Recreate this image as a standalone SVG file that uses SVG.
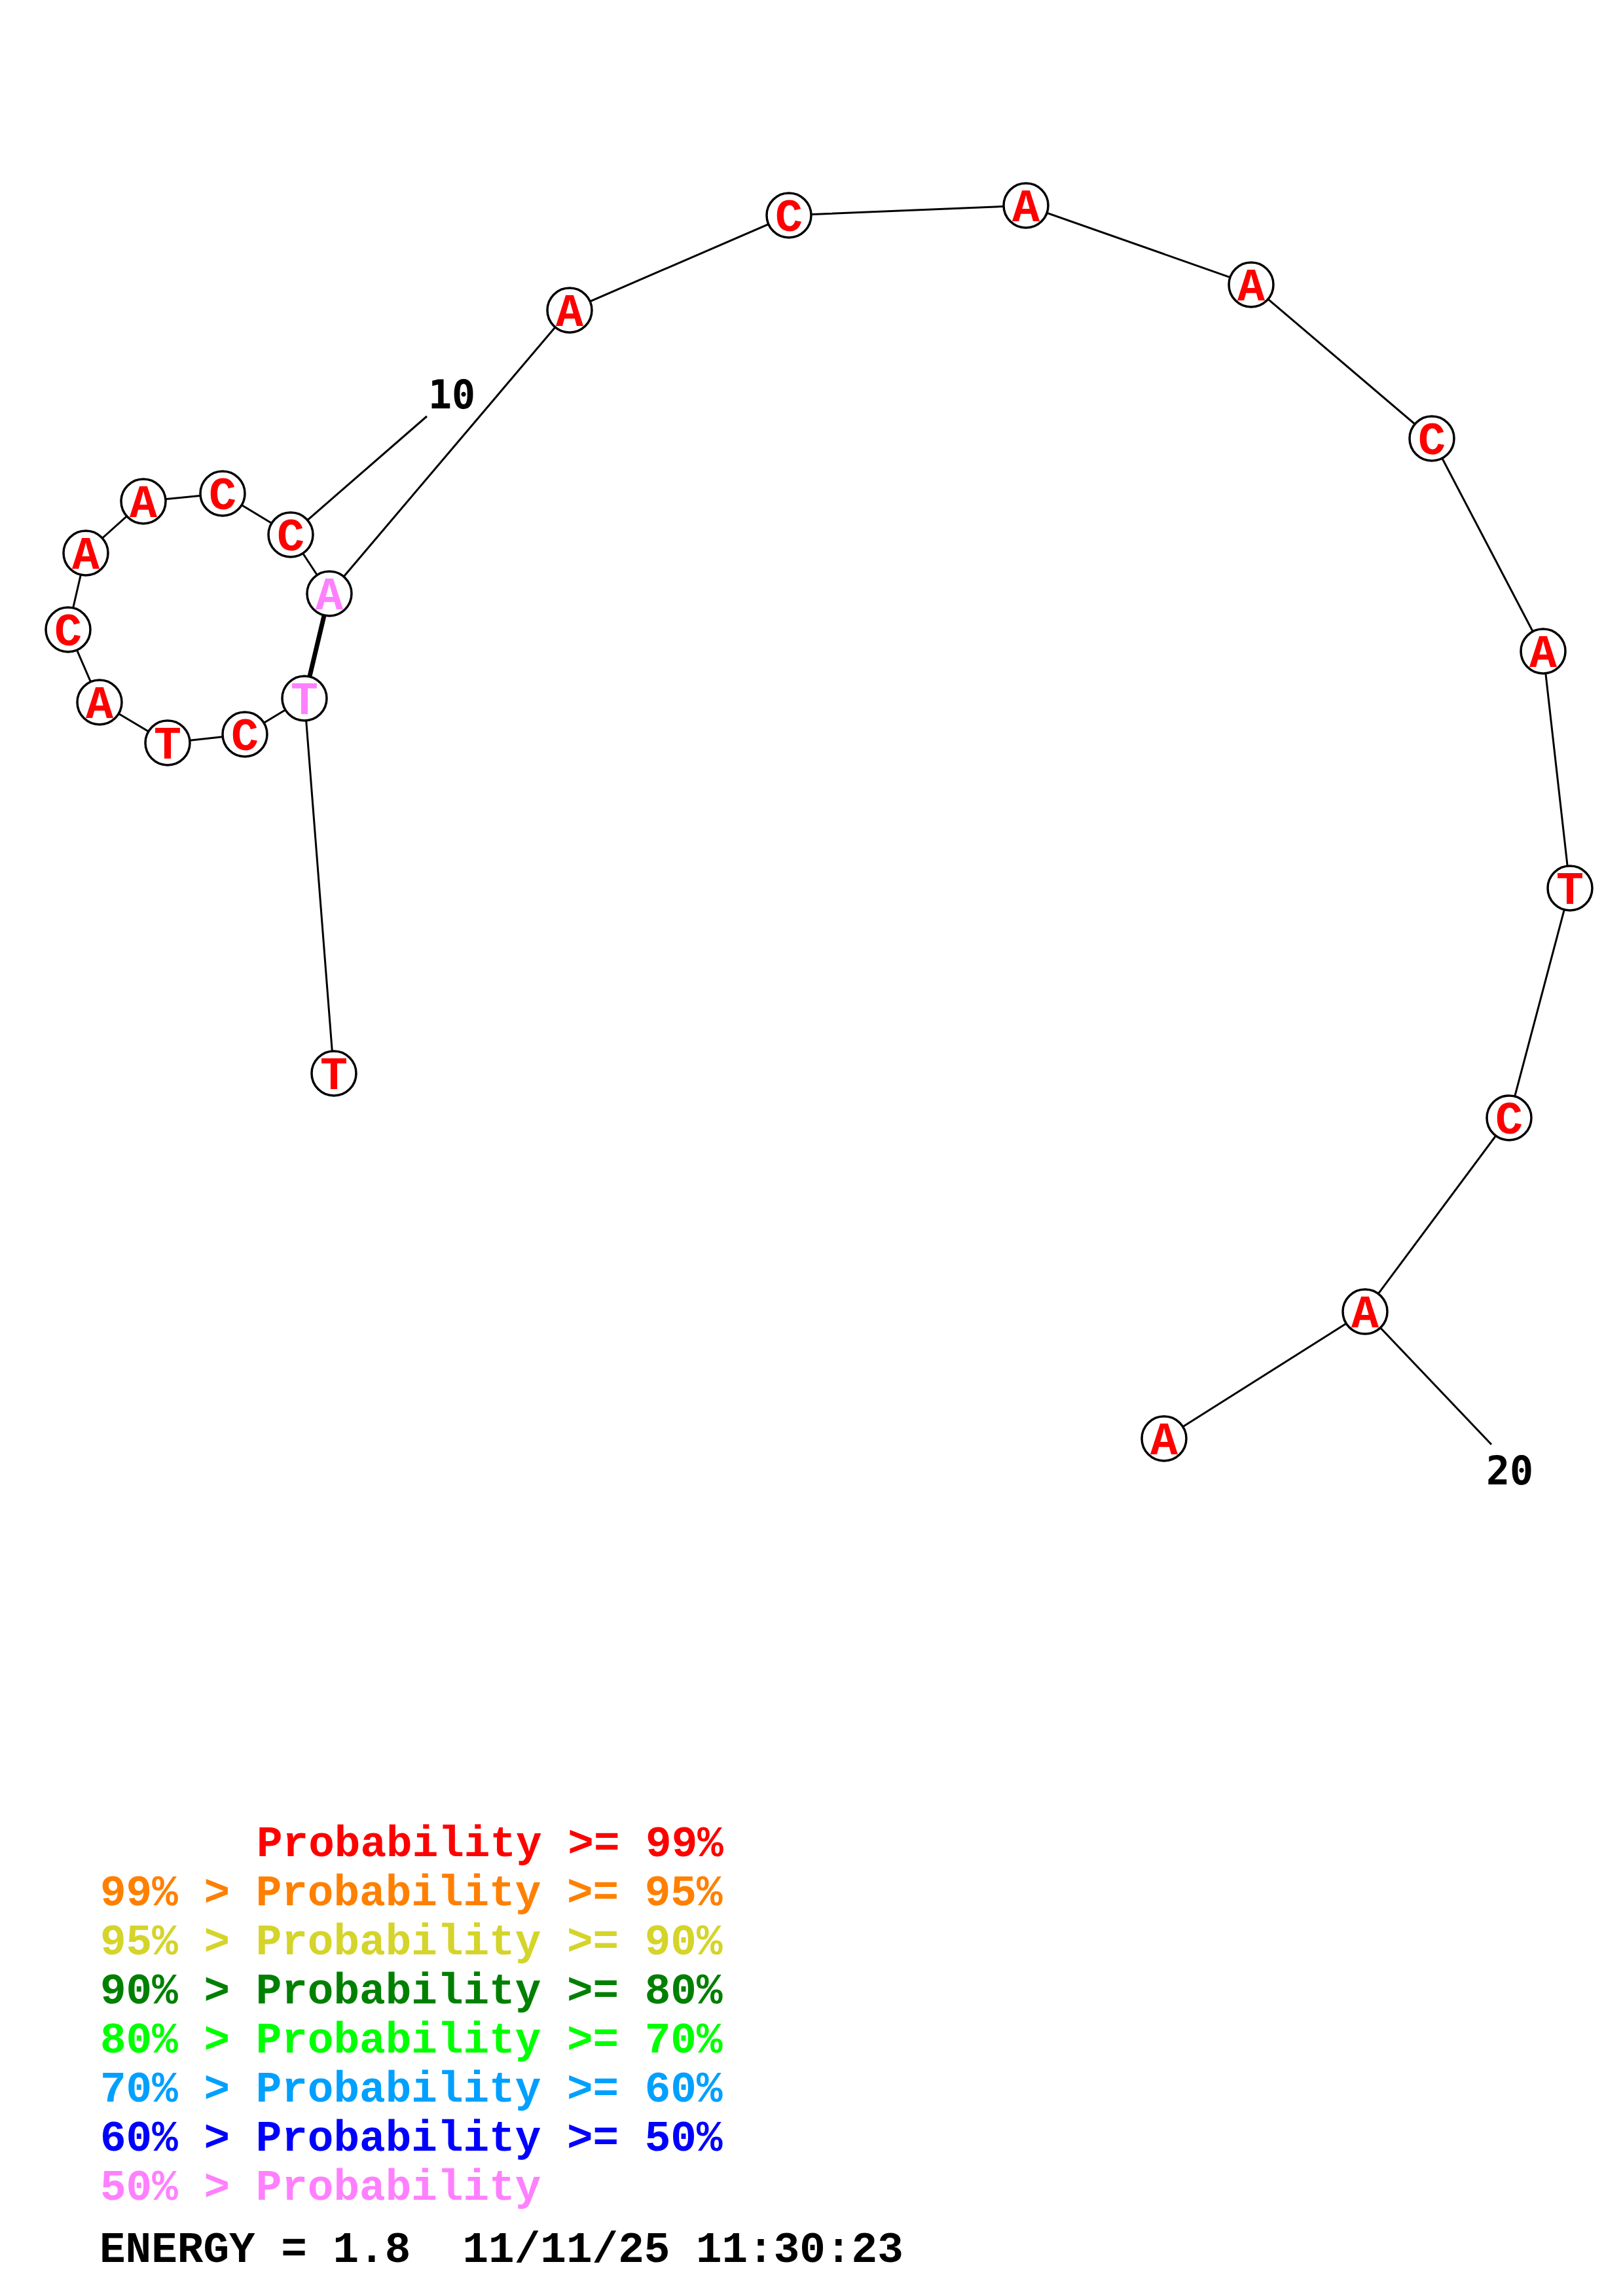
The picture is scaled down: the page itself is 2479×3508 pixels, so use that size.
<svg xmlns="http://www.w3.org/2000/svg" width="2479" height="3508" viewBox="0 0 2479 3508">
<style>
.bb{stroke:#000;stroke-width:3;fill:none}
.pair{stroke:#000;stroke-width:7}
.nc{fill:#fff;stroke:#000;stroke-width:3.5}
.nt{font-family:"Liberation Mono","Courier New",monospace;font-weight:bold;font-size:70px;text-anchor:middle;fill:#f00}
.nt.p{fill:#ff80ff}
.num{font-family:"DejaVu Sans Mono","Liberation Mono",monospace;font-weight:bold;font-size:60px;fill:#000}
.lg{font-family:"Liberation Mono","Courier New",monospace;font-weight:bold;font-size:66px}
</style>
<rect width="2479" height="3508" fill="#fff"/>
<g id="connectors">
<polyline class="bb" points="510,1640 465,1067 374,1122 256,1135 152,1073 104,962 131,845 219,766 340,754 444,817 503,907 870,474 1205,329 1567,314 1911,435 2187,670 2357,995 2398,1357 2305,1708 2085,2004 1778,2198"/>
<line class="pair" x1="465" y1="1067" x2="503" y2="907"/>
<line class="bb" x1="444" y1="817" x2="652" y2="636"/>
<line class="bb" x1="2085" y1="2004" x2="2278" y2="2207"/>
</g>
<g id="n1"><circle class="nc" cx="510" cy="1640" r="34"/><text class="nt" x="510" y="1664">T</text></g>
<g id="n2"><circle class="nc" cx="465" cy="1067" r="34"/><text class="nt p" x="465" y="1091">T</text></g>
<g id="n3"><circle class="nc" cx="374" cy="1122" r="34"/><text class="nt" x="374" y="1146">C</text></g>
<g id="n4"><circle class="nc" cx="256" cy="1135" r="34"/><text class="nt" x="256" y="1159">T</text></g>
<g id="n5"><circle class="nc" cx="152" cy="1073" r="34"/><text class="nt" x="152" y="1097">A</text></g>
<g id="n6"><circle class="nc" cx="104" cy="962" r="34"/><text class="nt" x="104" y="986">C</text></g>
<g id="n7"><circle class="nc" cx="131" cy="845" r="34"/><text class="nt" x="131" y="869">A</text></g>
<g id="n8"><circle class="nc" cx="219" cy="766" r="34"/><text class="nt" x="219" y="790">A</text></g>
<g id="n9"><circle class="nc" cx="340" cy="754" r="34"/><text class="nt" x="340" y="778">C</text></g>
<g id="n10"><circle class="nc" cx="444" cy="817" r="34"/><text class="nt" x="444" y="841">C</text></g>
<g id="n11"><circle class="nc" cx="503" cy="907" r="34"/><text class="nt p" x="503" y="931">A</text></g>
<g id="n12"><circle class="nc" cx="870" cy="474" r="34"/><text class="nt" x="870" y="498">A</text></g>
<g id="n13"><circle class="nc" cx="1205" cy="329" r="34"/><text class="nt" x="1205" y="353">C</text></g>
<g id="n14"><circle class="nc" cx="1567" cy="314" r="34"/><text class="nt" x="1567" y="338">A</text></g>
<g id="n15"><circle class="nc" cx="1911" cy="435" r="34"/><text class="nt" x="1911" y="459">A</text></g>
<g id="n16"><circle class="nc" cx="2187" cy="670" r="34"/><text class="nt" x="2187" y="694">C</text></g>
<g id="n17"><circle class="nc" cx="2357" cy="995" r="34"/><text class="nt" x="2357" y="1019">A</text></g>
<g id="n18"><circle class="nc" cx="2398" cy="1357" r="34"/><text class="nt" x="2398" y="1381">T</text></g>
<g id="n19"><circle class="nc" cx="2305" cy="1708" r="34"/><text class="nt" x="2305" y="1732">C</text></g>
<g id="n20"><circle class="nc" cx="2085" cy="2004" r="34"/><text class="nt" x="2085" y="2028">A</text></g>
<g id="n21"><circle class="nc" cx="1778" cy="2198" r="34"/><text class="nt" x="1778" y="2222">A</text></g>
<g id="labels">
<text class="num" x="654" y="624">10</text>
<text class="num" x="2270" y="2268">20</text>
</g>
<g id="legend">
<text class="lg" x="392" y="2836" fill="#ff0000">Probability &gt;= 99%</text>
<text class="lg" x="153" y="2911" fill="#ff8000">99% &gt; Probability &gt;= 95%</text>
<text class="lg" x="153" y="2986" fill="#d4d42a">95% &gt; Probability &gt;= 90%</text>
<text class="lg" x="153" y="3061" fill="#008000">90% &gt; Probability &gt;= 80%</text>
<text class="lg" x="153" y="3136" fill="#00ff00">80% &gt; Probability &gt;= 70%</text>
<text class="lg" x="153" y="3211" fill="#00a0ff">70% &gt; Probability &gt;= 60%</text>
<text class="lg" x="153" y="3286" fill="#0000ff">60% &gt; Probability &gt;= 50%</text>
<text class="lg" x="153" y="3361" fill="#ff80ff">50% &gt; Probability</text>
<text class="lg" x="152" y="3456" fill="#000" xml:space="preserve">ENERGY = 1.8  11/11/25 11:30:23</text>
</g>
</svg>
